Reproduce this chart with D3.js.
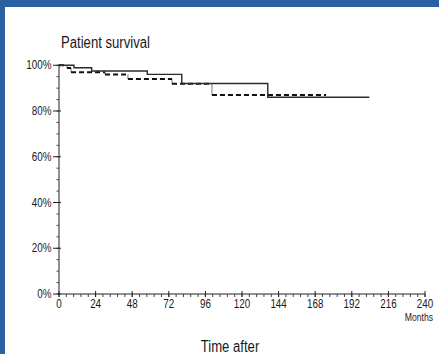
<!DOCTYPE html>
<html>
<head>
<meta charset="utf-8">
<script src="https://cdn.jsdelivr.net/npm/d3@7"></script>
<style>
  body { margin: 0; background: #fff; }
  text { font-family: "Liberation Sans", Arial, sans-serif; fill: #1a1a1a; }
</style>
</head>
<body>
<div id="chart"></div>
<script>
// Kaplan-Meier steps (month, survival %)
const solidMonths = [0, 9.8, 21.4, 57.9, 80.5, 136.9, 203.5];
const solidValues = [100, 98.9, 97.5, 96.0, 92.0, 86.0, 86.0];
const dashMonths = [0, 5.2, 7.9, 30.2, 45.2, 74.1, 100.3, 175.1];
const dashValues = [100, 98.8, 96.9, 96.0, 94.0, 91.9, 87.0, 87.0];

const xTicks = [0, 24, 48, 72, 96, 120, 144, 168, 192, 216, 240];
const yTicks = [0, 20, 40, 60, 80, 100];

const width = 439, height = 354;
const narrow = 0.82; // the original uses a condensed face

const svg = d3.select("#chart")
  .append("svg")
    .attr("width", width)
    .attr("height", height);

// blue frame
svg.append("rect").attr("x", 0).attr("y", 0).attr("width", width).attr("height", height).attr("fill", "#fff");
svg.append("rect").attr("x", 0).attr("y", 0).attr("width", width).attr("height", 7).attr("fill", "#2a60a1");
svg.append("rect").attr("x", 0).attr("y", 0).attr("width", 5).attr("height", height).attr("fill", "#2a60a1");

const x = d3.scaleLinear().domain([0, 240]).range([59, 425]);
const y = d3.scaleLinear().domain([0, 100]).range([294, 65.25]);

// condensed text helper
function label(parent, tx, ty, str, size, anchor) {
  return parent.append("text")
    .attr("transform", "translate(" + tx + "," + ty + ") scale(" + narrow + ",1)")
    .attr("text-anchor", anchor || "start")
    .style("font-size", size + "px")
    .text(str);
}

// x axis: major ticks cross the line, minor ticks hang below
const xAxis = svg.append("g").attr("transform", "translate(0," + y(0) + ")");
xAxis.append("line")
  .attr("x1", x(0)).attr("x2", x(240))
  .attr("stroke", "#222").attr("stroke-width", 1);
const xMinor = d3.range(0, 240.01, 4.8);
xAxis.selectAll(".minor")
  .data(xMinor)
  .enter().append("line")
    .attr("x1", d => x(d)).attr("x2", d => x(d))
    .attr("y1", 0).attr("y2", 3)
    .attr("stroke", "#444").attr("stroke-width", 1);
xAxis.selectAll(".major")
  .data(xTicks)
  .enter().append("line")
    .attr("x1", d => x(d)).attr("x2", d => x(d))
    .attr("y1", -3).attr("y2", 3)
    .attr("stroke", "#222").attr("stroke-width", 1);
xTicks.forEach(d => label(xAxis, x(d), 13.5, d, 12, "middle"));

// y axis
const yAxis = svg.append("g");
yAxis.append("line")
  .attr("x1", x(0)).attr("x2", x(0))
  .attr("y1", y(0)).attr("y2", y(100) - 1)
  .attr("stroke", "#222").attr("stroke-width", 1);
yAxis.selectAll(".minor")
  .data(d3.range(0, 100.01, 5))
  .enter().append("line")
    .attr("x1", x(0) - 2.5).attr("x2", x(0))
    .attr("y1", d => y(d)).attr("y2", d => y(d))
    .attr("stroke", "#444").attr("stroke-width", 1);
yAxis.selectAll(".major")
  .data(yTicks)
  .enter().append("line")
    .attr("x1", x(0) - 6).attr("x2", x(0) + 2)
    .attr("y1", d => y(d)).attr("y2", d => y(d))
    .attr("stroke", "#222").attr("stroke-width", 1);
yTicks.forEach(d => label(yAxis, x(0) - 7.5, y(d) + 4, d + "%", 12, "end"));

// steps: horizontal runs then vertical drops
function steps(months, values) {
  const runs = [], drops = [];
  for (let i = 0; i < months.length - 1; i++) {
    runs.push({ x0: months[i], x1: months[i + 1], v: values[i] });
    if (values[i + 1] !== values[i]) drops.push({ m: months[i + 1], v0: values[i], v1: values[i + 1] });
  }
  return { runs, drops };
}

const dash = steps(dashMonths, dashValues);
svg.selectAll(".dashDrop")
  .data(dash.drops)
  .enter().append("line")
    .attr("x1", d => x(d.m)).attr("x2", d => x(d.m))
    .attr("y1", d => y(d.v0)).attr("y2", d => y(d.v1))
    .attr("stroke", "#777").attr("stroke-width", 1);
svg.selectAll(".dashRun")
  .data(dash.runs)
  .enter().append("line")
    .attr("x1", d => x(d.x0)).attr("x2", d => x(d.x1))
    .attr("y1", d => y(d.v)).attr("y2", d => y(d.v))
    .attr("stroke", "#111").attr("stroke-width", 2)
    .attr("stroke-dasharray", "5,3");

const solidLine = d3.line()
  .x(d => x(d[0]))
  .y(d => y(d[1]))
  .curve(d3.curveStepAfter);
svg.append("path")
  .datum(solidMonths.map((m, i) => [m, solidValues[i]]))
  .attr("d", solidLine)
  .attr("fill", "none")
  .attr("stroke", "#2a2a2a")
  .attr("stroke-width", 1.4);

// titles
label(svg, 61, 48, "Patient survival", 16);
label(svg, 433, 321, "Months", 10.5, "end");
label(svg, 230, 352, "Time after", 16, "middle");
</script>
</body>
</html>
